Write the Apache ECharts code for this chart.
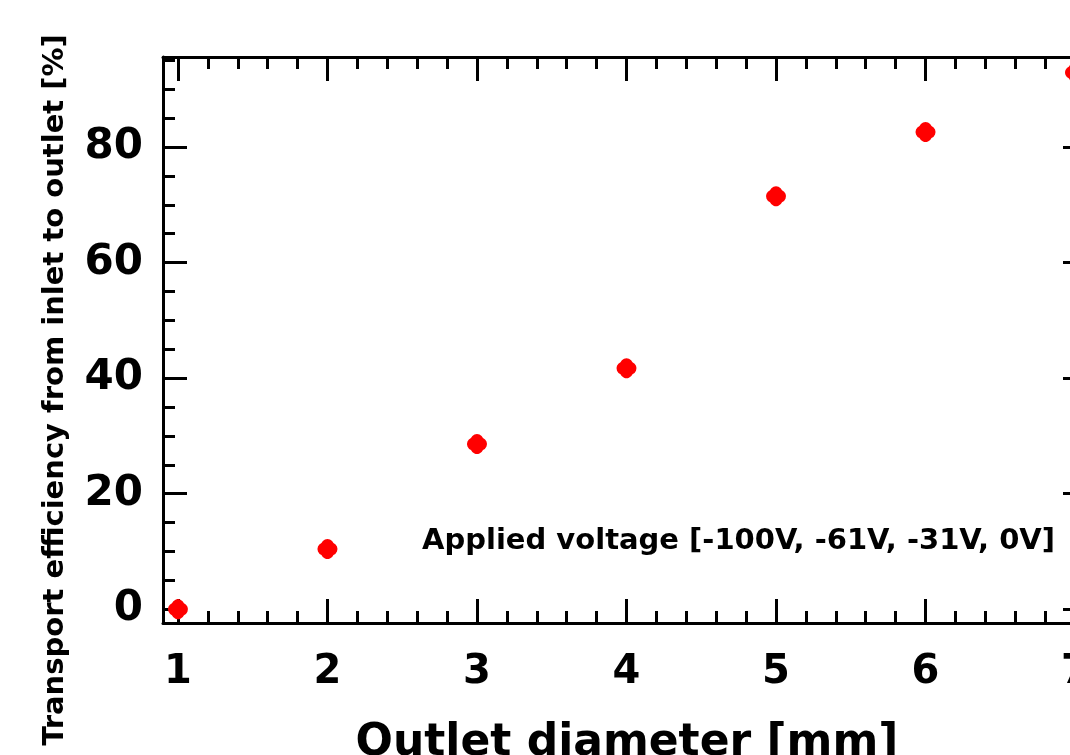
<!DOCTYPE html>
<html>
<head>
<meta charset="utf-8">
<script src="https://cdn.jsdelivr.net/npm/echarts@6/dist/echarts.min.js"></script>
<style>
html,body{margin:0;padding:0;background:#fff;}
#chart{width:1070px;height:755px;}
</style>
</head>
<body>
<div id="chart"></div>
<script>
// Data
const outletDiameter = [1, 2, 3, 4, 5, 6, 7];           // mm
const transportEfficiency = [0.0, 10.4, 28.6, 41.7, 71.5, 82.6, 92.9]; // %
const xTitle = 'Outlet diameter [mm]';
const yTitle = 'Transport efficiency from inlet to outlet [%]';
const annotation = 'Applied voltage [-100V, -61V, -31V, 0V]';
const yTickLabels = [0, 20, 40, 60, 80];
const xTickLabels = [1, 2, 3, 4, 5, 6, 7];

const FONT = 'DejaVu Sans';
const marker = 'path://M4,4 A6.5,6.5 0 0 1 16,4 A6.5,6.5 0 0 1 16,16 A6.5,6.5 0 0 1 4,16 A6.5,6.5 0 0 1 4,4 Z';

const axisLine = {show: true, onZero: false, lineStyle: {color: '#000', width: 3}};
const majorTick = {show: true, inside: true, length: 24, lineStyle: {color: '#000', width: 3}};

function xAxisDef(pos, showLabel) {
  return {
    type: 'value', position: pos, min: 0.9, max: 7.08,
    splitNumber: 6,
    axisLine: axisLine,
    axisTick: majorTick,
    minorTick: {show: true, splitNumber: 5, length: 12, lineStyle: {color: '#000', width: 3}},
    splitLine: {show: false},
    axisLabel: {
      show: showLabel, margin: 30, color: '#000',
      fontFamily: FONT, fontWeight: 'bold', fontSize: 40,
      formatter: v => xTickLabels.includes(Math.round(v*1000)/1000) ? String(v) : ''
    }
  };
}
function yAxisDef(pos, showLabel) {
  return {
    type: 'value', position: pos, min: -2.4, max: 95.6,
    splitNumber: 5,
    axisLine: axisLine,
    axisTick: majorTick,
    minorTick: {show: true, splitNumber: 4, length: 12, lineStyle: {color: '#000', width: 3}},
    splitLine: {show: false},
    axisLabel: {
      show: showLabel, margin: 20, color: '#000',
      fontFamily: FONT, fontWeight: 'bold', fontSize: 42,
      formatter: v => yTickLabels.includes(Math.round(v*1000)/1000) ? String(v) : ''
    }
  };
}

const chart = echarts.init(document.getElementById('chart'), null, {renderer: 'canvas'});
chart.setOption({
  backgroundColor: '#fff',
  animation: false,
  grid: {left: 163, top: 57, right: -17, bottom: 132, containLabel: false, outerBoundsMode: 'none'},
  xAxis: [xAxisDef('bottom', true), xAxisDef('top', false)],
  yAxis: [yAxisDef('left', true), yAxisDef('right', false)],
  series: [{
    type: 'scatter',
    xAxisIndex: 0, yAxisIndex: 0,
    symbol: marker,
    symbolSize: 20,
    itemStyle: {color: '#ff0000', opacity: 1},
    data: outletDiameter.map((x, i) => [x, transportEfficiency[i]])
  }],
  graphic: [
    {type: 'text', x: 55, y: 390, rotation: Math.PI / 2,
     style: {text: yTitle, fontFamily: FONT, fontWeight: 'bold', fontSize: 29, fill: '#000', align: 'center', verticalAlign: 'middle'}},
    {type: 'text', x: 627, y: 744,
     style: {text: xTitle, fontFamily: FONT, fontWeight: 'bold', fontSize: 44, fill: '#000', align: 'center', verticalAlign: 'middle'}},
    {type: 'text', x: 422, y: 541,
     style: {text: annotation, fontFamily: FONT, fontWeight: 'bold', fontSize: 29, fill: '#000', align: 'left', verticalAlign: 'middle'}}
  ]
});
</script>
</body>
</html>
